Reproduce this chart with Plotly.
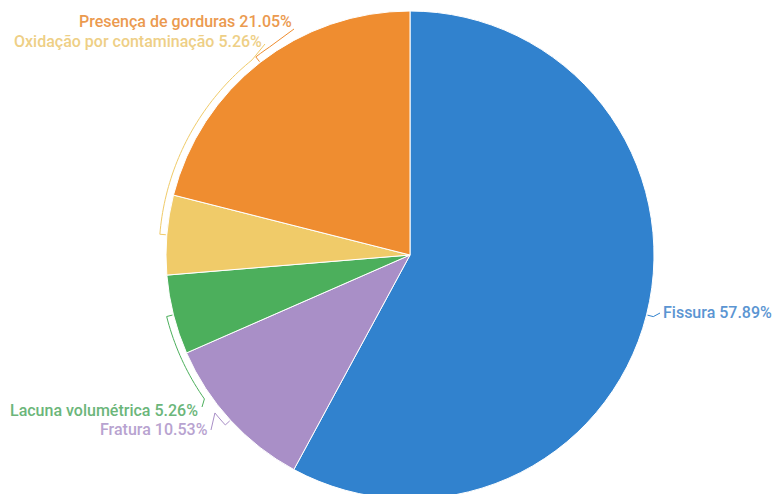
import math
import plotly.graph_objects as go

# Share of each defect type (%)
categories = ["Fissura", "Fratura", "Lacuna volumétrica",
              "Oxidação por contaminação", "Presença de gorduras"]
shares = [57.89, 10.53, 5.26, 5.26, 21.05]
colors = ["#3182CE", "#A98FC7", "#4CAF5C", "#F0CB69", "#EF8D30"]
label_colors = ["#5B95D2", "#B8A3D0", "#6BB67A", "#EECF86", "#EB9A4F"]

W, H = 773, 510
CX, CY, R = 410, 255, 244      # pie centre / radius in pixels
R_LINE = R + 7                 # radius of the curved leader lines

fig = go.Figure(go.Pie(
    labels=categories,
    values=shares,
    sort=False,
    direction="clockwise",
    rotation=0,
    marker=dict(colors=colors, line=dict(color="white", width=1)),
    textinfo="none",
    hoverinfo="label+percent",
    showlegend=False,
    domain=dict(x=[(CX - R) / W, (CX + R) / W], y=[0, 1]),
))


def to_paper(px, py):
    return px / W, 1 - py / H


def polar(angle_deg, radius):
    a = math.radians(angle_deg)
    return CX + radius * math.sin(a), CY - radius * math.cos(a)


total = sum(shares)
mids = []
acc = 0.0
for v in shares:
    mids.append(360 * (acc + v / 2) / total)
    acc += v

# leader layout per slice: angle where the leader leaves the circle,
# end of the leader (label anchor), label side
leaders = [
    dict(turn=None, end=(660, 313), anchor="left", text_xy=(661, 312)),
    dict(turn=231, end=(211, 430), anchor="right", text_xy=(210, 429)),
    dict(turn=235, end=(202, 407), anchor="right", text_xy=(200, 410)),
    dict(turn=321, end=(265, 44), anchor="right", text_xy=(264, 41)),
    dict(turn=326, end=(294, 29), anchor="right", text_xy=(294, 22)),
]

shapes, annotations = [], []
for cat, val, col, tcol, mid, ld in zip(categories, shares, colors, label_colors,
                                        mids, leaders):
    pts = [polar(mid, R + 1), polar(mid, R_LINE)]
    if ld["turn"] is not None:
        n = max(2, int(abs(ld["turn"] - mid)))
        for i in range(1, n + 1):
            pts.append(polar(mid + (ld["turn"] - mid) * i / n, R_LINE))
    pts.append(ld["end"])
    path = ""
    for i, (px, py) in enumerate(pts):
        x, y = to_paper(px, py)
        path += ("M" if i == 0 else "L") + f"{x:.5f},{y:.5f} "
    shapes.append(dict(type="path", path=path.strip(), xref="paper", yref="paper",
                       line=dict(color=col, width=1)))
    tx, ty = to_paper(*ld["text_xy"])
    annotations.append(dict(
        x=tx, y=ty, xref="paper", yref="paper", showarrow=False,
        xanchor=ld["anchor"], yanchor="middle",
        text=f"{cat} {val:.2f}%",
        font=dict(family="Roboto", size=16, color=tcol, weight=500),
    ))

fig.update_layout(
    width=W, height=H,
    margin=dict(l=0, r=0, t=0, b=0),
    paper_bgcolor="white", plot_bgcolor="white",
    shapes=shapes, annotations=annotations,
)

fig.write_html(
    "out.html",
    post_script="document.documentElement.style.overflow='hidden';"
                "document.body.style.overflow='hidden';document.body.style.margin='0';",
)
